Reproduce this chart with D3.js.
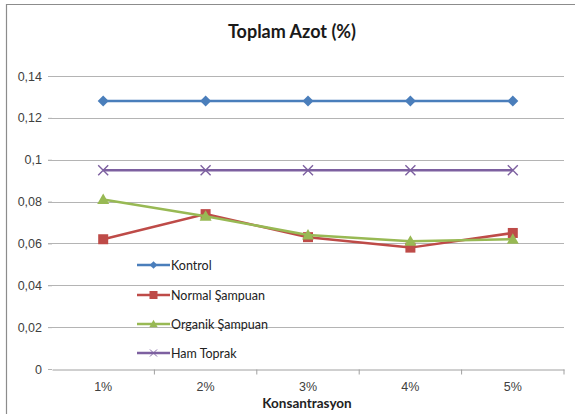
<!DOCTYPE html>
<html>
<head>
<meta charset="utf-8">
<script src="https://cdn.jsdelivr.net/npm/d3@7"></script>
<style>
  html, body { margin: 0; padding: 0; background: #fff; }
  svg { display: block; font-family: Lato, "Open Sans", sans-serif; }
</style>
</head>
<body>
<svg id="chart" width="575" height="414"></svg>
<script>
// Konsantrasyon categories and measured total nitrogen (%)
const categories = ["1%", "2%", "3%", "4%", "5%"];
const kontrol = [0.128, 0.128, 0.128, 0.128, 0.128];
const normalSampuan = [0.062, 0.074, 0.063, 0.058, 0.065];
const organikSampuan = [0.081, 0.073, 0.064, 0.061, 0.062];
const hamToprak = [0.095, 0.095, 0.095, 0.095, 0.095];
const yTicks = [0, 0.02, 0.04, 0.06, 0.08, 0.1, 0.12, 0.14];

const series = [
  { name: "Kontrol", values: kontrol, color: "#4A7EBB", marker: "diamond" },
  { name: "Normal Şampuan", values: normalSampuan, color: "#BE4B48", marker: "square" },
  { name: "Organik Şampuan", values: organikSampuan, color: "#98B954", marker: "triangle" },
  { name: "Ham Toprak", values: hamToprak, color: "#7D60A0", marker: "cross" }
];

const svg = d3.select("#chart");
const W = 575, H = 414;
const plot = { left: 52, right: 564, top: 76, bottom: 369 };

// outer frame (left and top edges)
svg.append("path")
  .attr("d", `M6.5,${H} V4.5 H${W}`)
  .attr("fill", "none").attr("stroke", "#8c8c8c").attr("stroke-width", 1.2);

const x = d3.scaleBand().domain(categories).range([plot.left, plot.right]);
const y = d3.scaleLinear().domain([0, 0.14]).range([plot.bottom, plot.top]);

const fmt = v => v === 0 ? "0" : String(+v.toFixed(2)).replace(".", ",");

// horizontal gridlines
svg.append("g").selectAll("line").data(yTicks.filter(d => d > 0)).join("line")
  .attr("x1", plot.left - 4).attr("x2", plot.right)
  .attr("y1", d => Math.round(y(d)) + 0.5).attr("y2", d => Math.round(y(d)) + 0.5)
  .attr("stroke", "#b4b4b4").attr("stroke-width", 1);

// y axis labels
const yAxis = d3.axisLeft(y).tickValues(yTicks).tickFormat(fmt).tickSize(4).tickPadding(6);
const gy = svg.append("g").attr("transform", `translate(${plot.left},0)`).call(yAxis);
gy.select(".domain").remove();
gy.selectAll("line").attr("stroke", "#b4b4b4");
gy.selectAll("text").attr("font-size", 12.5).attr("fill", "#404040");

// x axis
const xAxis = d3.axisBottom(x).tickSize(0).tickPadding(13);
const gx = svg.append("g").attr("transform", `translate(0,${Math.round(plot.bottom) + 0.5})`).call(xAxis);
gx.select(".domain").attr("stroke", "#a0a0a0");
gx.selectAll("text").attr("font-size", 12.5).attr("fill", "#404040");
// category boundary ticks
const bounds = categories.map(c => x(c)).concat([plot.right]);
gx.append("g").selectAll("line").data(bounds.slice(1)).join("line")
  .attr("x1", d => d).attr("x2", d => d).attr("y1", 0).attr("y2", 5)
  .attr("stroke", "#a0a0a0");

// axis title
svg.append("text").attr("x", (plot.left + plot.right) / 2 - 1).attr("y", 408)
  .attr("text-anchor", "middle").attr("font-size", 13.5).attr("font-weight", "bold")
  .attr("fill", "#222").text("Konsantrasyon");

// chart title
svg.append("text").attr("x", 292).attr("y", 38)
  .attr("text-anchor", "middle").attr("font-size", 18).attr("font-weight", "bold")
  .attr("fill", "#1a1a1a").text("Toplam Azot (%)");

const cx = c => x(c) + x.bandwidth() / 2;

function drawMarker(g, type, color, px, py) {
  if (type === "diamond") {
    g.append("path").attr("d", `M${px},${py - 5.5}L${px + 5.5},${py}L${px},${py + 5.5}L${px - 5.5},${py}Z`)
      .attr("fill", color);
  } else if (type === "square") {
    g.append("rect").attr("x", px - 5).attr("y", py - 5).attr("width", 10).attr("height", 10)
      .attr("fill", color);
  } else if (type === "triangle") {
    g.append("path").attr("d", `M${px},${py - 6}L${px + 6},${py + 4.5}L${px - 6},${py + 4.5}Z`)
      .attr("fill", color);
  } else if (type === "cross") {
    g.append("path").attr("d", `M${px - 5},${py - 5}L${px + 5},${py + 5}M${px - 5},${py + 5}L${px + 5},${py - 5}`)
      .attr("stroke", color).attr("stroke-width", 1.4).attr("fill", "none");
  }
}

const line = d3.line().x((d, i) => cx(categories[i])).y(d => y(d));

// series lines and markers
series.forEach(s => {
  const g = svg.append("g");
  g.append("path").datum(s.values).attr("d", line)
    .attr("fill", "none").attr("stroke", s.color).attr("stroke-width", 2.5);
  s.values.forEach((v, i) => drawMarker(g, s.marker, s.color, cx(categories[i]), y(v)));
});

// legend
const legendY = [265, 295, 324, 353];
series.forEach((s, i) => {
  const g = svg.append("g");
  const ly = legendY[i];
  g.append("line").attr("x1", 137).attr("x2", 170).attr("y1", ly).attr("y2", ly)
    .attr("stroke", s.color).attr("stroke-width", 2.5);
  const m = s.marker === "square" ? 0.8 : 0.7;
  const mg = g.append("g").attr("transform", `translate(153.5,${ly}) scale(${m}) translate(-153.5,${-ly})`);
  drawMarker(mg, s.marker, s.color, 153.5, ly);
  g.append("text").attr("x", 171).attr("y", ly + 4.5).attr("font-size", 12.5)
    .attr("fill", "#222").text(s.name);
});
</script>
</body>
</html>
